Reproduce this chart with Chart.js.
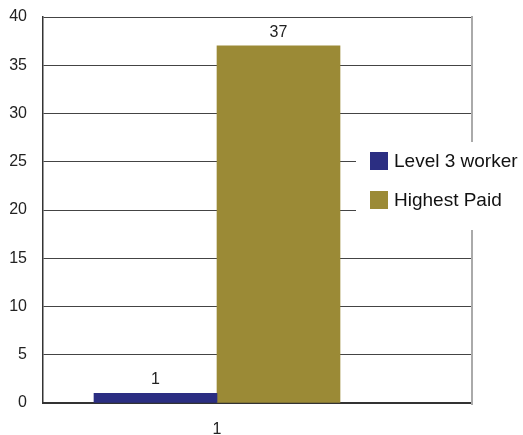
<!DOCTYPE html>
<html>
<head>
<meta charset="utf-8">
<script src="https://cdn.jsdelivr.net/npm/chart.js@4/dist/chart.umd.min.js"></script>
<style>
html,body{margin:0;padding:0;background:#fff;}
canvas{display:block;}
</style>
</head>
<body>
<canvas id="c" width="523" height="435"></canvas>
<script>
const categories = ['1'];
const seriesNames = ['Level 3 worker', 'Highest Paid'];
const level3Values = [1];
const highestPaidValues = [37];
const yTicks = [0, 5, 10, 15, 20, 25, 30, 35, 40];
const colors = ['#2b2e82', '#9b8a36'];

const FONT = '"Liberation Sans", Arial, Helvetica, sans-serif';

function toPoints(vals){ return categories.map((c,i)=>({x:i+1, y:vals[i]})); }

const overlay = {
  id: 'overlay',
  afterDraw(chart){
    const ctx = chart.ctx;
    const a = chart.chartArea;
    ctx.save();
    // right border of plot
    ctx.strokeStyle = '#aaaaaa';
    ctx.lineWidth = 2;
    ctx.beginPath();
    ctx.moveTo(a.right, a.top - 1);
    ctx.lineTo(a.right, a.bottom + 2);
    ctx.stroke();
    // data labels
    ctx.fillStyle = '#222';
    ctx.font = '16px ' + FONT;
    ctx.textAlign = 'center';
    ctx.textBaseline = 'alphabetic';
    chart.data.datasets.forEach((ds, di) => {
      const meta = chart.getDatasetMeta(di);
      meta.data.forEach((el, i) => {
        ctx.fillText(String(ds.data[i].y), el.x, el.y - 9);
      });
    });
    // legend box
    const bx = a.right - 116, by = 142;
    ctx.fillStyle = '#ffffff';
    ctx.fillRect(bx, by, chart.width - bx, 88);
    ctx.font = '19px ' + FONT;
    ctx.textAlign = 'left';
    ctx.textBaseline = 'middle';
    chart.data.datasets.forEach((ds, di) => {
      const y = 152 + di * 39;
      ctx.fillStyle = ds.backgroundColor;
      ctx.fillRect(bx + 14, y, 18, 18);
      ctx.fillStyle = '#111';
      ctx.fillText(ds.label, bx + 38, y + 10);
    });
    ctx.restore();
  }
};

new Chart(document.getElementById('c'), {
  type: 'bar',
  data: {
    datasets: [
      { label: seriesNames[0], data: toPoints(level3Values), backgroundColor: colors[0], barThickness: 123 },
      { label: seriesNames[1], data: toPoints(highestPaidValues), backgroundColor: colors[1], barThickness: 123 }
    ]
  },
  options: {
    responsive: false,
    animation: false,
    layout: { padding: { top: 17, right: 51, left: 0, bottom: 0 } },
    plugins: { legend: { display: false }, tooltip: { enabled: false } },
    scales: {
      x: {
        type: 'linear',
        offset: false,
        min: 0,
        max: 2.4655,
        grid: { display: false, drawTicks: false },
        border: { display: true, color: '#333', width: 2 },
        afterBuildTicks: s => { s.ticks = categories.map((c,i)=>({value:i+1})); },
        afterFit: s => { s.height = 32; s.paddingLeft = 0; s.paddingRight = 0; },
        ticks: {
          padding: 17,
          color: '#222',
          font: { size: 16, family: FONT },
          maxRotation: 0,
          autoSkip: false,
          callback: (v) => categories[v-1] !== undefined ? categories[v-1] : ''
        }
      },
      y: {
        min: 0,
        max: 40,
        afterBuildTicks: s => { s.ticks = yTicks.map(v=>({value:v})); },
        afterFit: s => { s.width = 43; s.paddingTop = 0; s.paddingBottom = 0; },
        grid: { color: '#444', lineWidth: 1, drawTicks: false },
        border: { display: true, color: '#333', width: 1.5 },
        ticks: {
          padding: 16,
          color: '#222',
          font: { size: 16, family: FONT }
        }
      }
    }
  },
  plugins: [overlay]
});
</script>
</body>
</html>
